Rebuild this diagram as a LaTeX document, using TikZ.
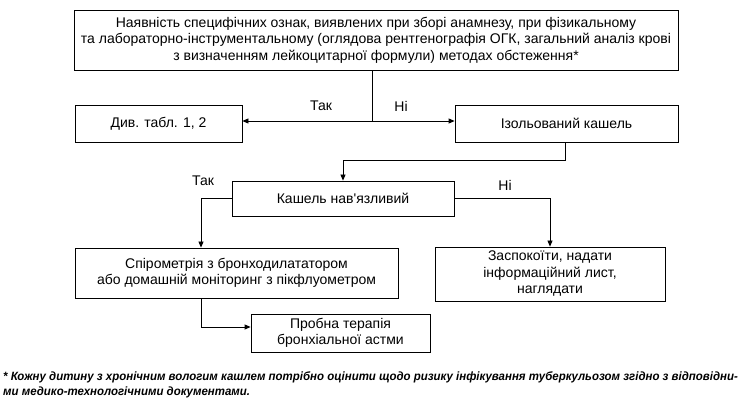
\documentclass[tikz,border=0pt]{standalone}
\usepackage{fontspec}
\setmainfont{Liberation Sans}[Ligatures=TeXOff]
\newfontfamily\notefont[FakeStretch=0.955]{Liberation Sans}
\usetikzlibrary{arrows.meta}
\begin{document}
\begin{tikzpicture}[x=1pt,y=-1pt,
  box/.style={draw, line width=0.8pt, inner sep=0pt, align=center,
    font=\fontsize{14}{16.5}\selectfont},
  conn/.style={line width=0.8pt},
  arr/.style={conn, -{Triangle[length=6pt,width=5pt]}},
  lbl/.style={font=\fontsize{14}{16}\selectfont, inner sep=0pt},
  note/.style={font=\notefont\bfseries\itshape\fontsize{12}{14}\selectfont, inner sep=0pt, anchor=west}]
\useasboundingbox (0,0) rectangle (739,406);
\node[box, minimum width=604pt, minimum height=60pt] (top) at (376,40)
  {Наявність специфічних ознак, виявлених при зборі анамнезу, при фізикальному\\
   та лабораторно-інструментальному (оглядова рентгенографія ОГК, загальний аналіз крові\\
   з визначенням лейкоцитарної формули) методах обстеження*};
\node[box, minimum width=167pt, minimum height=37pt] (div) at (158.5,123.5) {Див. табл. 1, 2};
\node[box, minimum width=223pt, minimum height=37pt] (izol) at (566.5,123.5) {Ізольований кашель};
\node[box, minimum width=222pt, minimum height=35pt] (kashel) at (343,198.5) {Кашель нав'язливий};
\node[box, minimum width=323pt, minimum height=50pt] (spiro) at (236.5,273)
  {Спірометрія з бронходилататором\\ або домашній моніторинг з пікфлуометром};
\node[box, minimum width=230pt, minimum height=54pt] (zasp) at (550,274)
  {Заспокоїти, надати\\ інформаційний лист,\\ наглядати};
\node[box, minimum width=179pt, minimum height=38pt] (proba) at (340.5,333)
  {Пробна терапія\\ бронхіальної астми};

\coordinate (j1) at (372,121);
\coordinate (j2) at (565,160);
\coordinate (j3) at (201,198.5);
\coordinate (j4) at (201,327);

\draw[conn] (top.south -| j1) -- (j1);
\draw[arr] (j1) -- (div.east |- j1);
\draw[arr] (j1) -- (izol.west |- j1);
\draw[arr] (izol.south -| j2) -- (j2) -| (kashel.north);
\draw[arr] (kashel.west) -| (j3 |- spiro.north);
\draw[arr] (kashel.east) -| (zasp.north);
\draw[arr] (spiro.south -| j4) -- (j4) -- (j4 -| proba.west);

\node[lbl] (t1) at (321,106) {Так};
\node[lbl] (n1) at (401,106) {Ні};
\node[lbl] (t2) at (203,181) {Так};
\node[lbl] (n2) at (505,185) {Ні};

\node[note] (f1) at (3,377) {* Кожну дитину з хронічним вологим кашлем потрібно оцінити щодо ризику інфікування туберкульозом згідно з відповідни-};
\node[note] (f2) at (3,392) {ми медико-технологічними документами.};
\end{tikzpicture}
\end{document}
